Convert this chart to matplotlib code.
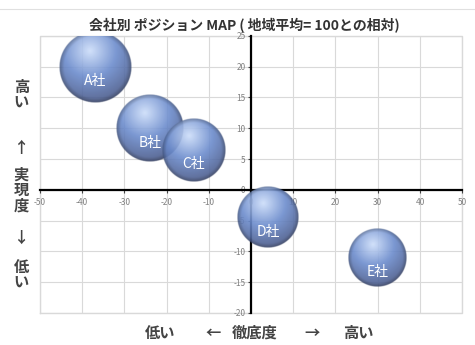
import numpy as np
import matplotlib.pyplot as plt

plt.rcParams['font.family'] = ['Noto Sans CJK JP', 'DejaVu Sans']

companies = ['A社', 'B社', 'C社', 'D社', 'E社']
x_vals = [-37, -24, -13.5, 4, 30]
y_vals = [20, 10, 6.5, -4.5, -11]
sizes = [100, 89, 79, 72, 67]

x_ticks = [-50, -40, -30, -20, -10, 0, 10, 20, 30, 40, 50]
y_ticks = [-20, -15, -10, -5, 0, 5, 10, 15, 20, 25]
title = '会社別 ポジション MAP ( 地域平均= 100との相対)'


def sphere_image(n=160):
    yy, xx = np.mgrid[-1:1:n * 1j, -1:1:n * 1j]
    r = np.sqrt(xx ** 2 + yy ** 2)
    d = np.sqrt((xx + 0.15) ** 2 + (yy + 0.45) ** 2)
    t = np.clip(d / 1.45, 0, 1)
    hi = np.array([205, 222, 250]) / 255
    mid = np.array([108, 140, 205]) / 255
    dark = np.array([72, 88, 135]) / 255
    t1 = np.clip(t / 0.5, 0, 1)[..., None]
    t2 = np.clip((t - 0.5) / 0.5, 0, 1)[..., None]
    col = hi * (1 - t1) + mid * t1
    col = col * (1 - t2) + dark * t2
    # rim darkening
    rim = np.clip((r - 0.86) / 0.14, 0, 1)[..., None]
    col = col * (1 - 0.3 * rim)
    alpha = np.clip((1 - r) * n / 3, 0, 1) * 0.9
    return np.dstack([col, alpha])


fig = plt.figure(figsize=(4.75, 3.45), dpi=100)
ax = fig.add_axes([0.084, 0.093, 0.889, 0.803])
ax.set_xlim(-50, 50)
ax.set_ylim(-20, 25)

ax.set_xticks(x_ticks)
ax.set_yticks(y_ticks)
ax.grid(True, color='#d9d9d9', linewidth=0.8, zorder=0)
ax.set_axisbelow(True)

for s in ['top', 'right']:
    ax.spines[s].set_visible(False)
ax.spines['left'].set_position(('data', 0))
ax.spines['bottom'].set_position(('data', 0))
ax.spines['left'].set_linewidth(1.6)
ax.spines['bottom'].set_linewidth(1.6)
ax.spines['left'].set_color('black')
ax.spines['bottom'].set_color('black')
ax.tick_params(axis='both', labelsize=6, colors='#444444', length=2,
               labelcolor='#808080')
ax.tick_params(axis='x', pad=4)
ax.tick_params(axis='y', pad=2)
ax.set_xticklabels([str(v) for v in x_ticks])
ax.set_yticklabels([str(v) for v in y_ticks])

# outer box
ax.plot([-50, 50, 50, -50, -50], [-20, -20, 25, 25, -20], color='#d9d9d9',
        linewidth=1, zorder=0.5, clip_on=False)

img = sphere_image()
fig.canvas.draw()
px_x = ax.transData.transform((1, 0))[0] - ax.transData.transform((0, 0))[0]
px_y = ax.transData.transform((0, 1))[1] - ax.transData.transform((0, 0))[1]
for name, xv, yv, sv in zip(companies, x_vals, y_vals, sizes):
    r_px = 36 * np.sqrt(sv / 100)
    dx = r_px / px_x
    dy = r_px / px_y
    ax.imshow(img, extent=[xv - dx, xv + dx, yv - dy, yv + dy],
              origin='upper', zorder=3, interpolation='bilinear', aspect='auto')
    ax.annotate(name, (xv, yv), xytext=(0, -10.5), textcoords='offset points',
                ha='center', va='center', color='white', fontsize=10, zorder=4)
ax.set_xlim(-50, 50)
ax.set_ylim(-20, 25)

fig.text(0.515, 0.925, title, ha='center', va='center', fontsize=10,
         fontweight='bold', color='#333333')
fig.add_artist(plt.Line2D([0, 1], [0.974, 0.974], color='#e0e0e0', linewidth=0.8))

lab = dict(fontsize=11, fontweight='bold', color='#444444', ha='center', va='center',
           linespacing=0.95)
fig.text(0.045, 1 - 95 / 345, '高\nい', **lab)
fig.text(0.045, 1 - 148 / 345, '↑', **lab)
fig.text(0.045, 1 - 190 / 345, '実\n現\n度', **lab)
fig.text(0.045, 1 - 238 / 345, '↓', **lab)
fig.text(0.045, 1 - 275 / 345, '低\nい', **lab)

yb = 1 - 333 / 345
fig.text(160 / 475, yb, '低い', **lab)
fig.text(213 / 475, yb, '←', **lab)
fig.text(255 / 475, yb, '徹底度', **lab)
fig.text(312 / 475, yb, '→', **lab)
fig.text(358 / 475, yb, '高い', **lab)

fig.savefig('out.png', dpi=100)
